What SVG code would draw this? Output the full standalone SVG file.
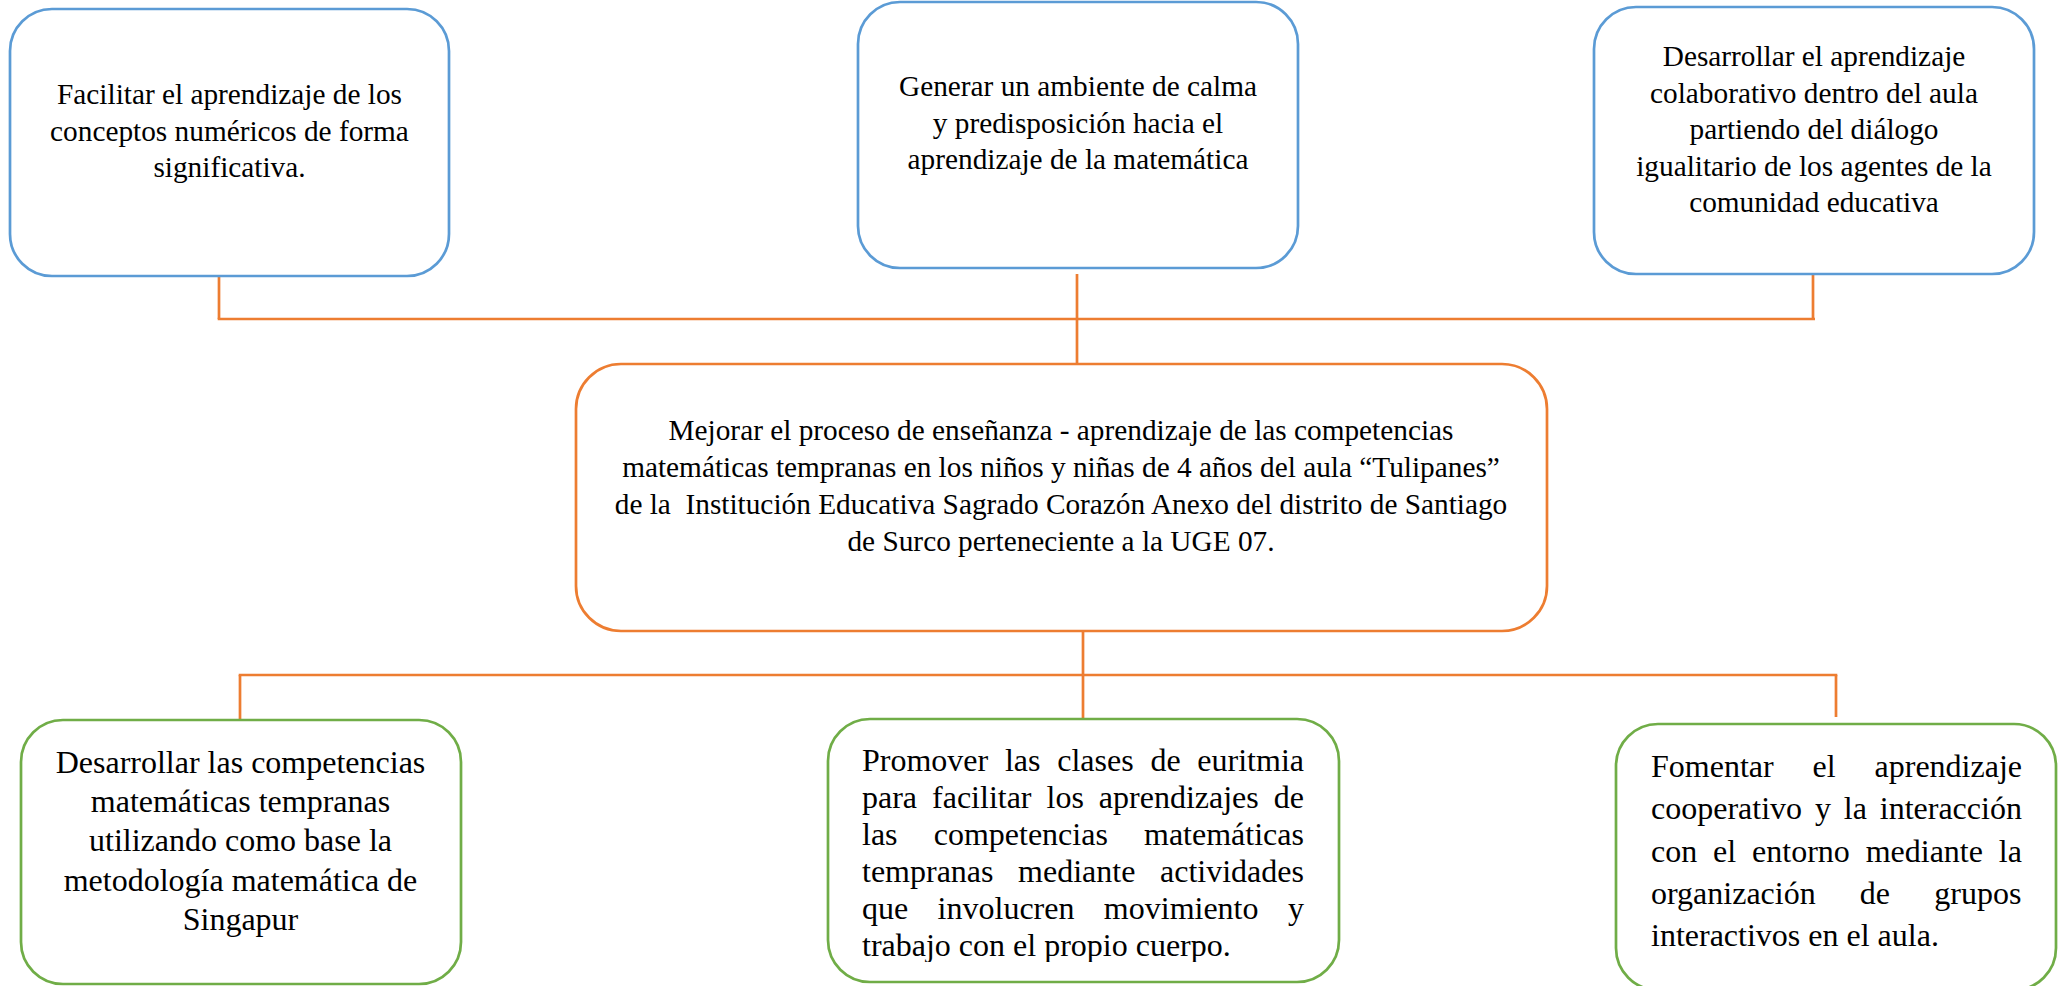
<svg xmlns="http://www.w3.org/2000/svg" width="2060" height="986" viewBox="0 0 2060 986">
<style>
.box{fill:#ffffff;stroke-width:2.7}
.blue{stroke:#5B9BD5}
.orange{stroke:#ED7D31}
.green{stroke:#70AD47}
text{font-family:'Liberation Serif',Tinos,'Times New Roman',Times,'DejaVu Serif',serif;fill:#000000}
.s{font-size:29.3px}
.b{font-size:32px}
.c{text-anchor:middle}
.conn line{stroke:#ED7D31;stroke-width:2.7;fill:none}
</style>
<defs>
<clipPath id="clipMid"><rect x="828" y="719" width="511" height="243"/></clipPath>
</defs>
<rect width="2060" height="986" fill="#ffffff"/>
<g id="connectors" class="conn">
<line x1="219" y1="276" x2="219" y2="319"/>
<line x1="217.7" y1="319" x2="1815" y2="319"/>
<line x1="1813" y1="273" x2="1813" y2="319"/>
<line x1="1077" y1="274" x2="1077" y2="364"/>
<line x1="1083" y1="631" x2="1083" y2="719"/>
<line x1="238.7" y1="675" x2="1837.3" y2="675"/>
<line x1="240" y1="675" x2="240" y2="720"/>
<line x1="1836" y1="675" x2="1836" y2="717"/>
</g>
<g id="node1">
<rect class="box blue" x="10" y="9" width="439" height="267" rx="42"/>
<text class="s c" font-family="Liberation Serif, serif"><tspan x="229.5" y="104">Facilitar el aprendizaje de los</tspan><tspan x="229.5" y="140.7">conceptos numéricos de forma</tspan><tspan x="229.5" y="177.4">significativa.</tspan></text>
</g>
<g id="node2">
<rect class="box blue" x="858" y="2" width="440" height="266" rx="42"/>
<text class="s c" font-family="Liberation Serif, serif"><tspan x="1078" y="96">Generar un ambiente de calma</tspan><tspan x="1078" y="132.7">y predisposición hacia el</tspan><tspan x="1078" y="169.4">aprendizaje de la matemática</tspan></text>
</g>
<g id="node3">
<rect class="box blue" x="1594" y="7" width="440" height="267" rx="42"/>
<text class="s c" font-family="Liberation Serif, serif"><tspan x="1814" y="66">Desarrollar el aprendizaje</tspan><tspan x="1814" y="102.5">colaborativo dentro del aula</tspan><tspan x="1814" y="139">partiendo del diálogo</tspan><tspan x="1814" y="175.5">igualitario de los agentes de la</tspan><tspan x="1814" y="212">comunidad educativa</tspan></text>
</g>
<g id="node4">
<rect class="box orange" x="576" y="364" width="971" height="267" rx="45"/>
<text class="s c" font-family="Liberation Serif, serif" xml:space="preserve"><tspan x="1061" y="440">Mejorar el proceso de enseñanza - aprendizaje de las competencias</tspan><tspan x="1061" y="477">matemáticas tempranas en los niños y niñas de 4 años del aula “Tulipanes”</tspan><tspan x="1061" y="514">de la  Institución Educativa Sagrado Corazón Anexo del distrito de Santiago</tspan><tspan x="1061" y="551">de Surco perteneciente a la UGE 07.</tspan></text>
</g>
<g id="node5">
<rect class="box green" x="21" y="720" width="440" height="264" rx="42"/>
<text class="b c" font-family="Liberation Serif, serif"><tspan x="240.5" y="773">Desarrollar las competencias</tspan><tspan x="240.5" y="812.2">matemáticas tempranas</tspan><tspan x="240.5" y="851.4">utilizando como base la</tspan><tspan x="240.5" y="890.6">metodología matemática de</tspan><tspan x="240.5" y="929.8">Singapur</tspan></text>
</g>
<g id="node6">
<rect class="box green" x="828" y="719" width="511" height="263" rx="42"/>
<g clip-path="url(#clipMid)" font-family="Liberation Serif, serif">
<text class="b" x="862" y="771" word-spacing="8.75">Promover las clases de euritmia</text>
<text class="b" x="862" y="808" word-spacing="6.98">para facilitar los aprendizajes de</text>
<text class="b" x="862" y="845" word-spacing="28.15">las competencias matemáticas</text>
<text class="b" x="862" y="882" word-spacing="16.6">tempranas mediante actividades</text>
<text class="b" x="862" y="919" word-spacing="21.4">que involucren movimiento y</text>
<text class="b" x="862" y="956">trabajo con el propio cuerpo.</text>
</g>
</g>
<g id="node7">
<rect class="box green" x="1616" y="724" width="440" height="266" rx="42"/>
<text class="b" x="1651" y="777" word-spacing="30.9">Fomentar el aprendizaje</text>
<text class="b" x="1651" y="819.3" word-spacing="4.87">cooperativo y la interacción</text>
<text class="b" x="1651" y="861.6" word-spacing="7.88">con el entorno mediante la</text>
<text class="b" x="1651" y="903.9" word-spacing="36.2">organización de grupos</text>
<text class="b" x="1651" y="946.2">interactivos en el aula.</text>
</g>
</svg>
